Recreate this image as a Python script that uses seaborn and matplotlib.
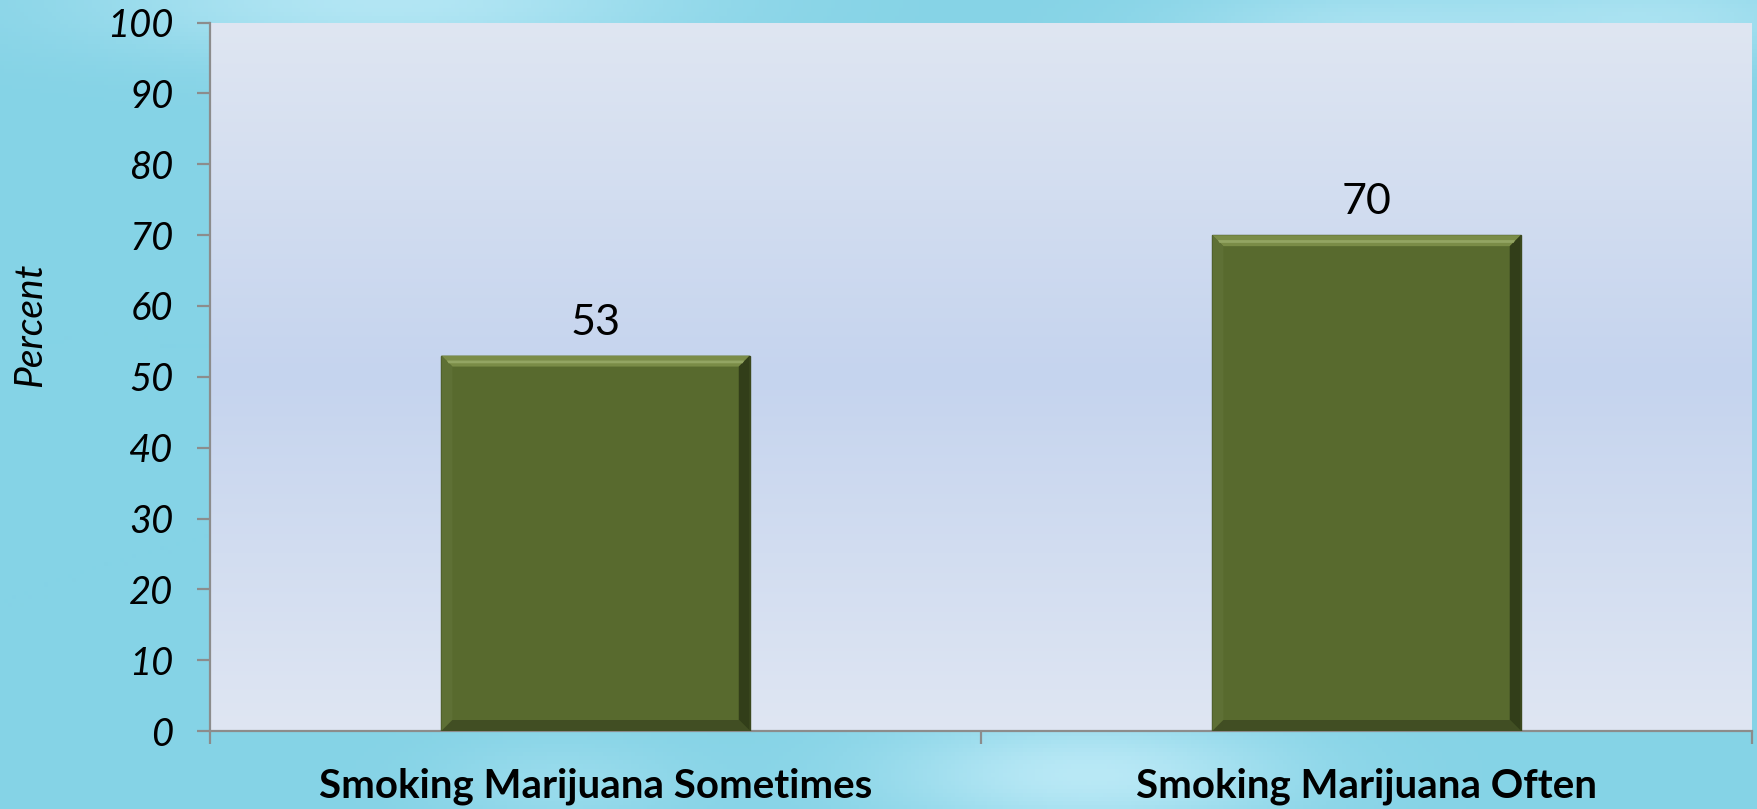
import numpy as np
import pandas as pd
import seaborn as sns
import matplotlib
matplotlib.use("Agg")
import matplotlib.pyplot as plt
from matplotlib.colors import to_rgb
from matplotlib.patches import Polygon

# Data
categories = ["Smoking Marijuana Sometimes", "Smoking Marijuana Often"]
percent = [53, 70]
yticks = list(range(0, 101, 10))

sns.set_theme(style="white")
plt.rcParams["font.family"] = ["Lato", "DejaVu Sans"]

fig = plt.figure(figsize=(17.58, 8.09), dpi=100)

# Soft teal backdrop behind the whole figure
bg = fig.add_axes([0, 0, 1, 1], zorder=-10)
h, w = 200, 440
yy, xx = np.mgrid[0:1:h * 1j, 0:1:w * 1j]
base = np.array(to_rgb("#85d3e6"))
light = np.array(to_rgb("#c6eefa"))


def blob(cx, cy, sx, sy, a):
    return a * np.exp(-((xx - cx) ** 2 / (2 * sx ** 2) + (yy - cy) ** 2 / (2 * sy ** 2)))


mix = (blob(0.22, 0.0, 0.12, 0.05, 0.7) + blob(0.62, 0.96, 0.08, 0.05, 0.8)
       + blob(0.95, 0.02, 0.07, 0.04, 0.5) + blob(0.78, 0.03, 0.08, 0.04, 0.5)
       + blob(0.32, 0.97, 0.05, 0.04, 0.3))
mix = np.clip(mix, 0, 1)
img = base * (1 - mix[..., None]) + light * mix[..., None]
bg.imshow(img, extent=[0, 1, 0, 1], aspect="auto", origin="upper")
bg.axis("off")

# Main plotting area
ax = fig.add_axes([0.1195, 0.0964, 0.8771, 0.8756])
ax.set_facecolor("none")

# Vertical gradient fill of the plot area
stops = np.array([to_rgb("#dfe6f2"), to_rgb("#c5d4ee"), to_rgb("#dfe6f3")])
t = np.linspace(0, 1, 256)
grad = np.empty((256, 1, 3))
for c in range(3):
    grad[:, 0, c] = np.interp(t, [0, 0.5, 1], stops[:, c])
ax.imshow(grad, extent=[0, 1, 0, 1], transform=ax.transAxes, aspect="auto",
          origin="upper", zorder=0)

df = pd.DataFrame({"category": categories, "percent": percent})
sns.barplot(data=df, x="category", y="percent", color="#586a2e", saturation=1,
            width=0.4, edgecolor="#3b481e", linewidth=1, ax=ax, zorder=3)

ax.set_xlim(-0.5, 1.5)
ax.set_ylim(0, 100)

# Bevelled edges on each bar
inv = ax.transData.inverted()
b = 11
for bar in ax.patches:
    x0, y0 = bar.get_x(), bar.get_y()
    x1, y1 = x0 + bar.get_width(), y0 + bar.get_height()
    (X0, Y0), (X1, Y1) = ax.transData.transform([(x0, y0), (x1, y1)])
    faces = {
        "top": ([(X0, Y1), (X1, Y1), (X1 - b, Y1 - b), (X0 + b, Y1 - b)], "#7a8c47"),
        "left": ([(X0, Y0), (X0, Y1), (X0 + b, Y1 - b), (X0 + b, Y0 + b)], "#5e7035"),
        "right": ([(X1, Y0), (X1, Y1), (X1 - b, Y1 - b), (X1 - b, Y0 + b)], "#323e19"),
        "bottom": ([(X0, Y0), (X1, Y0), (X1 - b, Y0 + b), (X0 + b, Y0 + b)], "#414e23"),
    }
    for pts, col in faces.values():
        ax.add_patch(Polygon(inv.transform(pts), closed=True, facecolor=col,
                             edgecolor="none", zorder=4))
    # thin highlight along the top bevel
    hl = [(X0 + b * 0.5, Y1 - b * 0.45), (X1 - b * 0.5, Y1 - b * 0.45),
          (X1 - b * 0.65, Y1 - b * 0.7), (X0 + b * 0.65, Y1 - b * 0.7)]
    ax.add_patch(Polygon(inv.transform(hl), closed=True, facecolor="#93a563",
                         edgecolor="none", zorder=5))

# Value labels
for i, v in enumerate(percent):
    ax.annotate(f"{v}", xy=(i, v), xytext=(0, 10), textcoords="offset points",
                ha="center", va="bottom", fontsize=31, color="black", zorder=6)

# Axes styling
axis_grey = "#8c8c8c"
for side in ["top", "right"]:
    ax.spines[side].set_visible(False)
for side in ["left", "bottom"]:
    ax.spines[side].set_visible(True)
    ax.spines[side].set_color(axis_grey)
    ax.spines[side].set_linewidth(1.6)

ax.set_yticks(yticks)
ax.set_yticklabels([str(v) for v in yticks], fontsize=27.5, style="italic")
ax.tick_params(axis="y", left=True, length=9.4, width=1.6, color=axis_grey,
               direction="out", pad=17, labelcolor="black")

ax.set_xticks([0, 1])
ax.set_xticklabels(categories, fontsize=29, fontweight="bold")
ax.set_xticks([-0.5, 0.5, 1.5], minor=True)
ax.tick_params(axis="x", which="major", bottom=True, length=0, pad=26,
               labelcolor="black")
ax.tick_params(axis="x", which="minor", bottom=True, length=9.4, width=1.6,
               color=axis_grey, direction="out")

ax.set_xlabel("")
ax.set_ylabel("Percent", fontsize=28, style="italic", color="black")
ax.yaxis.set_label_coords(-0.105, 0.573)

fig.savefig("out.png", dpi=100)
